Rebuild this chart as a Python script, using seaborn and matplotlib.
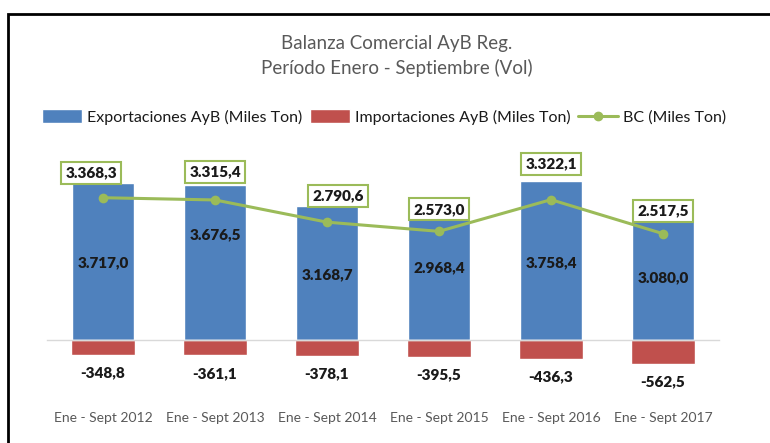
import numpy as np
import pandas as pd
import matplotlib
matplotlib.use("Agg")
import matplotlib.pyplot as plt
from matplotlib.patches import Patch, Rectangle
from matplotlib.lines import Line2D
import seaborn as sns

# Data (miles de toneladas)
periodos = ["Ene - Sept 2012", "Ene - Sept 2013", "Ene - Sept 2014",
            "Ene - Sept 2015", "Ene - Sept 2016", "Ene - Sept 2017"]
exportaciones = [3717.0, 3676.5, 3168.7, 2968.4, 3758.4, 3080.0]
importaciones = [-348.8, -361.1, -378.1, -395.5, -436.3, -562.5]
balanza = [3368.3, 3315.4, 2790.6, 2573.0, 3322.1, 2517.5]

# label placement: export labels as a fraction of bar height,
# balance labels as pixel offsets from their marker
exp_label_frac = [0.49, 0.675, 0.485, 0.58, 0.485, 0.48]
bc_label_offset = [(-12, 25), (0, 28), (11, 26), (0, 22), (0, 36), (0, 23)]

BLUE = "#4F81BD"
RED = "#C0504D"
GREEN = "#9BBB59"
GRAY = "#595959"

sns.set_theme(style="white")
plt.rcParams["font.family"] = ["Lato", "DejaVu Sans"]

df = pd.DataFrame({"periodo": periodos, "exp": exportaciones,
                   "imp": importaciones, "bc": balanza})

def fmt(v):
    s = f"{v:,.1f}"
    return s.replace(",", "X").replace(".", ",").replace("X", ".")

fig = plt.figure(figsize=(7.7, 4.43), dpi=100)
ax = fig.add_axes([47 / 770, (443 - 374) / 443, (719 - 47) / 770, 203 / 443])

sns.barplot(data=df, x="periodo", y="exp", color=BLUE, width=0.56,
            saturation=1, ax=ax)
sns.barplot(data=df, x="periodo", y="imp", color=RED, width=0.58,
            saturation=1, ax=ax)
xs = np.arange(len(periodos))
sns.lineplot(x=xs, y=df["bc"], color=GREEN, linewidth=2.2, marker="o",
             markersize=7, markeredgewidth=0, ax=ax)

ax.set_xlim(-0.5, len(periodos) - 0.5)
ax.set_ylim(-800, 4000)
ax.set_xlabel("")
ax.set_ylabel("")
ax.set_yticks([])
for s in ["top", "right", "left"]:
    ax.spines[s].set_visible(False)
ax.spines["bottom"].set_position(("data", 0))
ax.spines["bottom"].set_color("#D9D9D9")
ax.spines["bottom"].set_linewidth(1)
ax.set_xticks(xs)
ax.set_xticklabels(periodos)
ax.set_xticks(np.arange(-0.5, len(periodos)), minor=True)
ax.tick_params(axis="x", which="major", length=0, pad=52, labelsize=10,
               labelcolor=GRAY)
ax.tick_params(axis="x", which="minor", direction="in", length=4,
               color="#D9D9D9", width=1)

for i, (e, m, b) in enumerate(zip(exportaciones, importaciones, balanza)):
    ax.text(i, e * exp_label_frac[i], fmt(e), ha="center", va="center",
            fontsize=11, fontweight="heavy", color="#1a1a1a")
    ax.annotate(fmt(m), (i, m), xytext=(0, -18), textcoords="offset pixels",
                ha="center", va="center", fontsize=11, fontweight="heavy",
                color="#1a1a1a", annotation_clip=False)
    dx, dy = bc_label_offset[i]
    ax.annotate(fmt(b), (i, b), xytext=(dx, dy), textcoords="offset pixels",
                ha="center", va="center", fontsize=11, fontweight="heavy",
                color="#1a1a1a", annotation_clip=False,
                bbox=dict(boxstyle="square,pad=0.3", fc="white", ec=GREEN,
                          lw=1.5))

fig.text(0.515, 1 - 43 / 443, "Balanza Comercial AyB Reg.", ha="center",
         va="center", fontsize=13.5, color=GRAY)
fig.text(0.515, 1 - 68 / 443, "Período Enero - Septiembre (Vol)", ha="center",
         va="center", fontsize=13.5, color=GRAY)

handles = [Patch(facecolor=BLUE), Patch(facecolor=RED),
           Line2D([0], [0], color=GREEN, lw=2.2, marker="o", markersize=6)]
labels = ["Exportaciones AyB (Miles Ton)", "Importaciones AyB (Miles Ton)",
          "BC (Miles Ton)"]
fig.legend(handles, labels, loc="center", bbox_to_anchor=(0.499, 1 - 117 / 443),
           ncol=3, frameon=False, fontsize=11.5, handlelength=2.5,
           handleheight=1.0, handletextpad=0.3, columnspacing=0.5,
           labelcolor="#1a1a1a")

# outer chart frame
fig.add_artist(Rectangle((8 / 770, -0.1), 1.2, 1.1 - 14 / 443,
                         transform=fig.transFigure, fill=False,
                         edgecolor="black", linewidth=2, clip_on=False))

fig.savefig("out.png", dpi=100)
